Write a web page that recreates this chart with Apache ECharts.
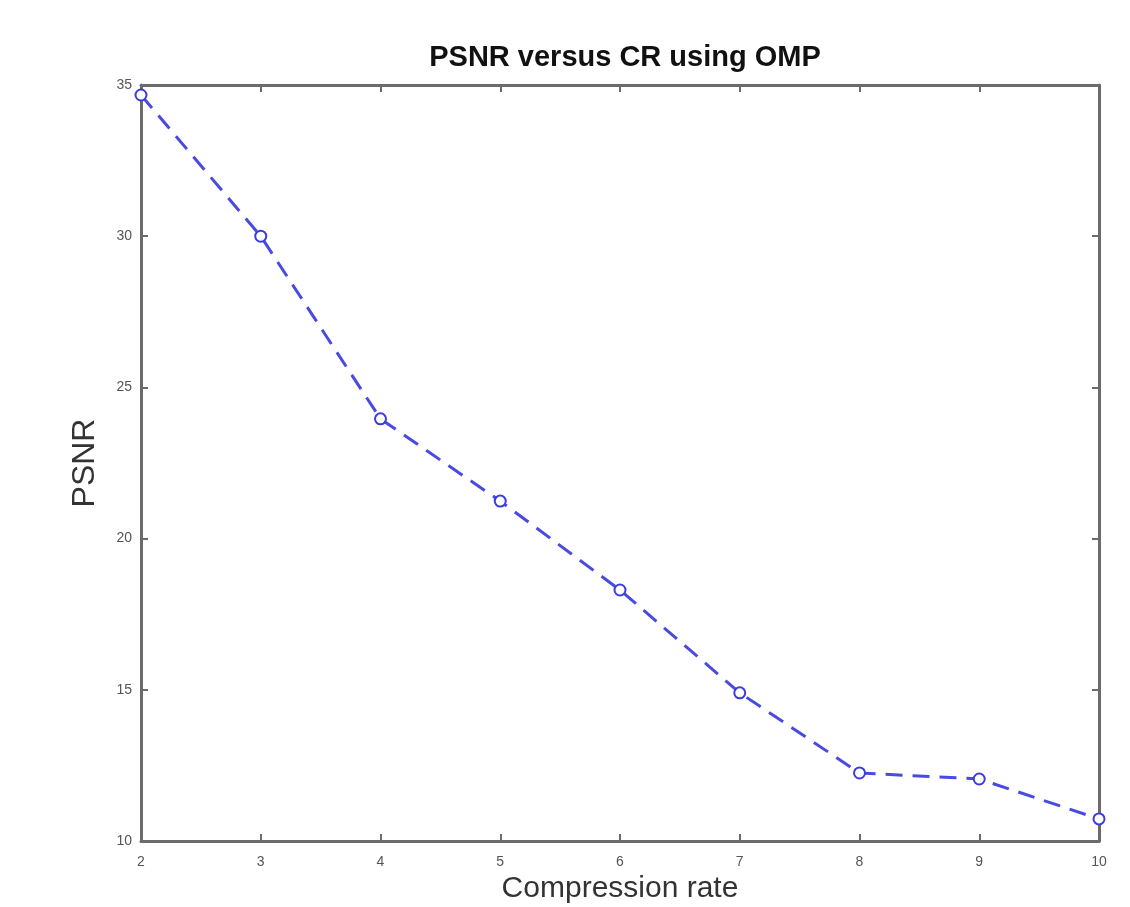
<!DOCTYPE html>
<html>
<head>
<meta charset="utf-8">
<script src="https://cdn.jsdelivr.net/npm/echarts@6/dist/echarts.min.js"></script>
<style>html,body{margin:0;padding:0;background:#fff}#c{width:1130px;height:907px}</style>
</head>
<body>
<div id="c"></div>
<script>
const compressionRates = [2, 3, 4, 5, 6, 7, 8, 9, 10];
const psnrValues = [34.67, 30.0, 23.96, 21.24, 18.3, 14.9, 12.25, 12.05, 10.73];
const xTicks = [2, 3, 4, 5, 6, 7, 8, 9, 10];
const yTicks = [10, 15, 20, 25, 30, 35];

const chart = echarts.init(document.getElementById('c'));
const axisLineStyle = { color: '#6b6b6b', width: 3 };
const tickStyle = { show: true, inside: true, length: 7, lineStyle: { color: '#6b6b6b', width: 2 } };
const labelStyle = { color: '#555', fontSize: 14, fontFamily: 'Liberation Sans, Arial, sans-serif' };
chart.setOption({
  animation: false,
  backgroundColor: '#fff',
  title: {
    text: 'PSNR versus CR using OMP',
    left: 620, top: 38, textAlign: 'center',
    textStyle: { fontSize: 29, fontWeight: 'bold', color: '#111', fontFamily: 'Liberation Sans, Arial, sans-serif' }
  },
  grid: { left: 141, right: 31, top: 85, bottom: 66, containLabel: false, outerBoundsMode: 'none' },
  xAxis: [{
    type: 'value', min: 2, max: 10, interval: 1,
    name: 'Compression rate', nameLocation: 'middle', nameGap: 31,
    nameTextStyle: { fontSize: 30, color: '#333', fontFamily: 'Liberation Sans, Arial, sans-serif' },
    axisLine: { show: true, lineStyle: axisLineStyle },
    axisTick: tickStyle,
    axisLabel: Object.assign({ margin: 14 }, labelStyle),
    splitLine: { show: false }
  }, {
    type: 'value', min: 2, max: 10, interval: 1, position: 'top',
    axisLine: { show: true, lineStyle: axisLineStyle },
    axisTick: tickStyle, axisLabel: { show: false }, splitLine: { show: false }
  }],
  yAxis: [{
    type: 'value', min: 10, max: 35, interval: 5,
    name: 'PSNR', nameLocation: 'middle', nameGap: 40,
    nameTextStyle: { fontSize: 32, color: '#333', fontFamily: 'Liberation Sans, Arial, sans-serif' },
    axisLine: { show: true, lineStyle: axisLineStyle },
    axisTick: tickStyle,
    axisLabel: Object.assign({ margin: 9 }, labelStyle),
    splitLine: { show: false }
  }, {
    type: 'value', min: 10, max: 35, interval: 5, position: 'right',
    axisLine: { show: true, lineStyle: axisLineStyle },
    axisTick: tickStyle, axisLabel: { show: false }, splitLine: { show: false }
  }],
  series: [{
    type: 'line',
    data: compressionRates.map((x, i) => [x, psnrValues[i]]),
    symbol: 'emptyCircle', symbolSize: 11,
    lineStyle: { color: '#4a4ae0', width: 3, type: [17, 10] },
    itemStyle: { color: '#3c3ce0', borderColor: '#3c3ce0', borderWidth: 3 },
    clip: false
  }]
});
</script>
</body>
</html>
